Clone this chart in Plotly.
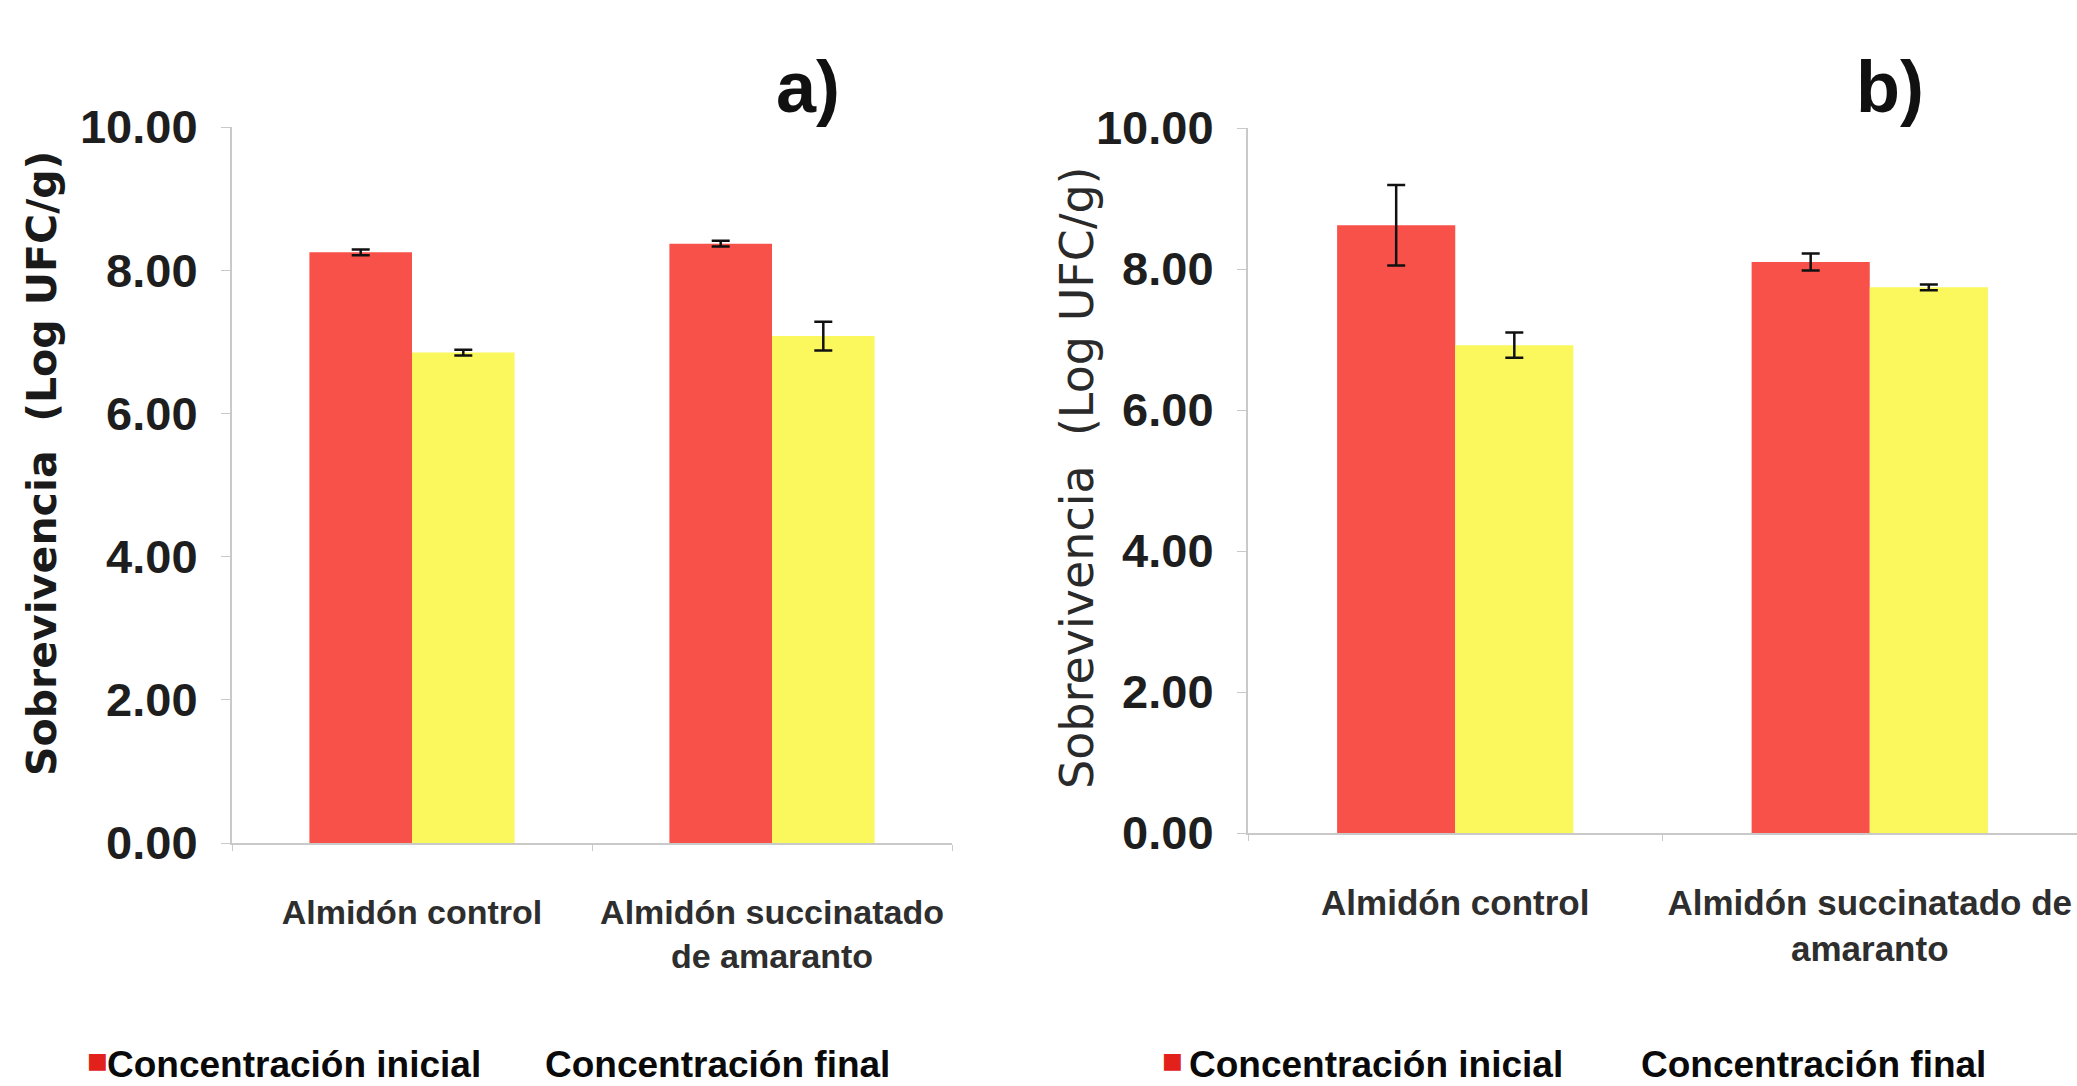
import plotly.graph_objects as go

# ---- data -------------------------------------------------------------
categories_a = ["Almidón control", "Almidón succinatado<br>de amaranto"]
categories_b = ["Almidón control", "Almidón succinatado de<br>amaranto"]
series_names = ["Concentración inicial", "Concentración final"]

inicial_a = [8.25, 8.37]
inicial_a_err = [0.04, 0.04]
final_a = [6.85, 7.08]
final_a_err = [0.04, 0.20]

inicial_b = [8.62, 8.10]
inicial_b_err = [0.57, 0.12]
final_b = [6.92, 7.74]
final_b_err = [0.18, 0.04]

y_tickvals = [0, 2, 4, 6, 8, 10]
y_ticktext = ["0.00", "2.00", "4.00", "6.00", "8.00", "10.00"]
panel_labels = ["a)", "b)"]
y_title = "Sobrevivencia  (Log UFC/g)"

# ---- styling ------------------------------------------------------------
W, H = 2077, 1086
RED = "#F8514A"
YELLOW = "#FAF85C"
SWATCH_RED = "#E3211C"
AXIS_GREY = "#C9C9C9"
SANS = "Liberation Sans, Arial, sans-serif"
WIDE = "DejaVu Sans, Verdana, sans-serif"


def fx(px):
    return px / W


def fy(py):
    return 1 - py / H


def bars(cats, vals, errs, name, color, xa, ya):
    return go.Bar(
        x=cats, y=vals, name=name, xaxis=xa, yaxis=ya,
        marker=dict(color=color, line=dict(width=0)),
        error_y=dict(type="data", array=errs, color="#111111",
                     thickness=2.5, width=9),
        showlegend=False,
    )


fig = go.Figure()
fig.add_trace(bars(categories_a, inicial_a, inicial_a_err, series_names[0], RED, "x", "y"))
fig.add_trace(bars(categories_a, final_a, final_a_err, series_names[1], YELLOW, "x", "y"))
fig.add_trace(bars(categories_b, inicial_b, inicial_b_err, series_names[0], RED, "x2", "y2"))
fig.add_trace(bars(categories_b, final_b, final_b_err, series_names[1], YELLOW, "x2", "y2"))


def x_axis(domain, size):
    return dict(
        domain=domain, range=[-0.5, 1.5],
        showline=True, linecolor=AXIS_GREY, linewidth=2,
        ticks="outside", tickson="boundaries", ticklen=6, tickcolor=AXIS_GREY,
        tickfont=dict(family=SANS, size=size, color="#2E2E2E", weight="bold"),
        tickangle=0, ticklabelstandoff=38, automargin=False,
        showgrid=False, zeroline=False, fixedrange=True,
    )


def y_axis(domain):
    return dict(
        domain=domain, range=[0, 10], tickmode="array",
        tickvals=y_tickvals, ticktext=y_ticktext,
        showline=True, linecolor=AXIS_GREY, linewidth=2,
        ticks="outside", ticklen=9, tickcolor=AXIS_GREY,
        tickfont=dict(family=SANS, size=47, color="#1E1E1E", weight="bold"),
        ticklabelstandoff=14, automargin=False,
        showgrid=False, zeroline=False, fixedrange=True,
    )


# panel a: axis from x=232 to 952 px, y=0 at 843 px, y=10 at 127 px
# panel b: axis from x=1248 px to the right edge, y=0 at 833 px, y=10 at 128 px
fig.update_layout(
    xaxis=dict(anchor="y", **x_axis([fx(232), fx(952)], 34)),
    yaxis=dict(anchor="x", **y_axis([fy(843), fy(127)])),
    xaxis2=dict(anchor="y2", **x_axis([fx(1248), 1.0], 35)),
    yaxis2=dict(anchor="x2", **y_axis([fy(833), fy(128)])),
    barmode="group", bargap=0.43, bargroupgap=0.0,
    width=W, height=H, autosize=False,
    margin=dict(l=0, r=0, t=0, b=0, pad=0),
    paper_bgcolor="white", plot_bgcolor="white",
    showlegend=False,
)

annotations = []
# y-axis titles
annotations.append(dict(text=y_title, x=fx(42), y=fy(464), xref="paper", yref="paper",
                        textangle=-90, showarrow=False, xanchor="center", yanchor="middle",
                        font=dict(family=WIDE, size=41, color="#1A1A1A", weight="bold")))
annotations.append(dict(text=y_title, x=fx(1077), y=fy(478), xref="paper", yref="paper",
                        textangle=-90, showarrow=False, xanchor="center", yanchor="middle",
                        font=dict(family=WIDE, size=46, color="#2A2A2A")))
# panel letters
for lab, cx in zip(panel_labels, [808, 1890]):
    annotations.append(dict(text=lab, x=fx(cx), y=fy(87), xref="paper", yref="paper",
                            showarrow=False, xanchor="center", yanchor="middle",
                            font=dict(family=SANS, size=72, color="#111111", weight="bold")))

# series key under each panel
for sq_x, first_x, second_x in [(97, 105, 543), (1172, 1187, 1639)]:
    annotations.append(dict(text="■", x=fx(sq_x), y=fy(1060), xref="paper", yref="paper",
                            showarrow=False, xanchor="center", yanchor="middle",
                            font=dict(family=WIDE, size=22, color=SWATCH_RED)))
    annotations.append(dict(text=series_names[0], x=fx(first_x), y=fy(1064), xref="paper",
                            yref="paper", showarrow=False, xanchor="left", yanchor="middle",
                            font=dict(family=SANS, size=37, color="#0A0A0A", weight="bold")))
    annotations.append(dict(text=series_names[1], x=fx(second_x), y=fy(1064), xref="paper",
                            yref="paper", showarrow=False, xanchor="left", yanchor="middle",
                            font=dict(family=SANS, size=37, color="#0A0A0A", weight="bold")))

fig.update_layout(annotations=annotations)

fig.write_html("out.html", config={"displayModeBar": False})
